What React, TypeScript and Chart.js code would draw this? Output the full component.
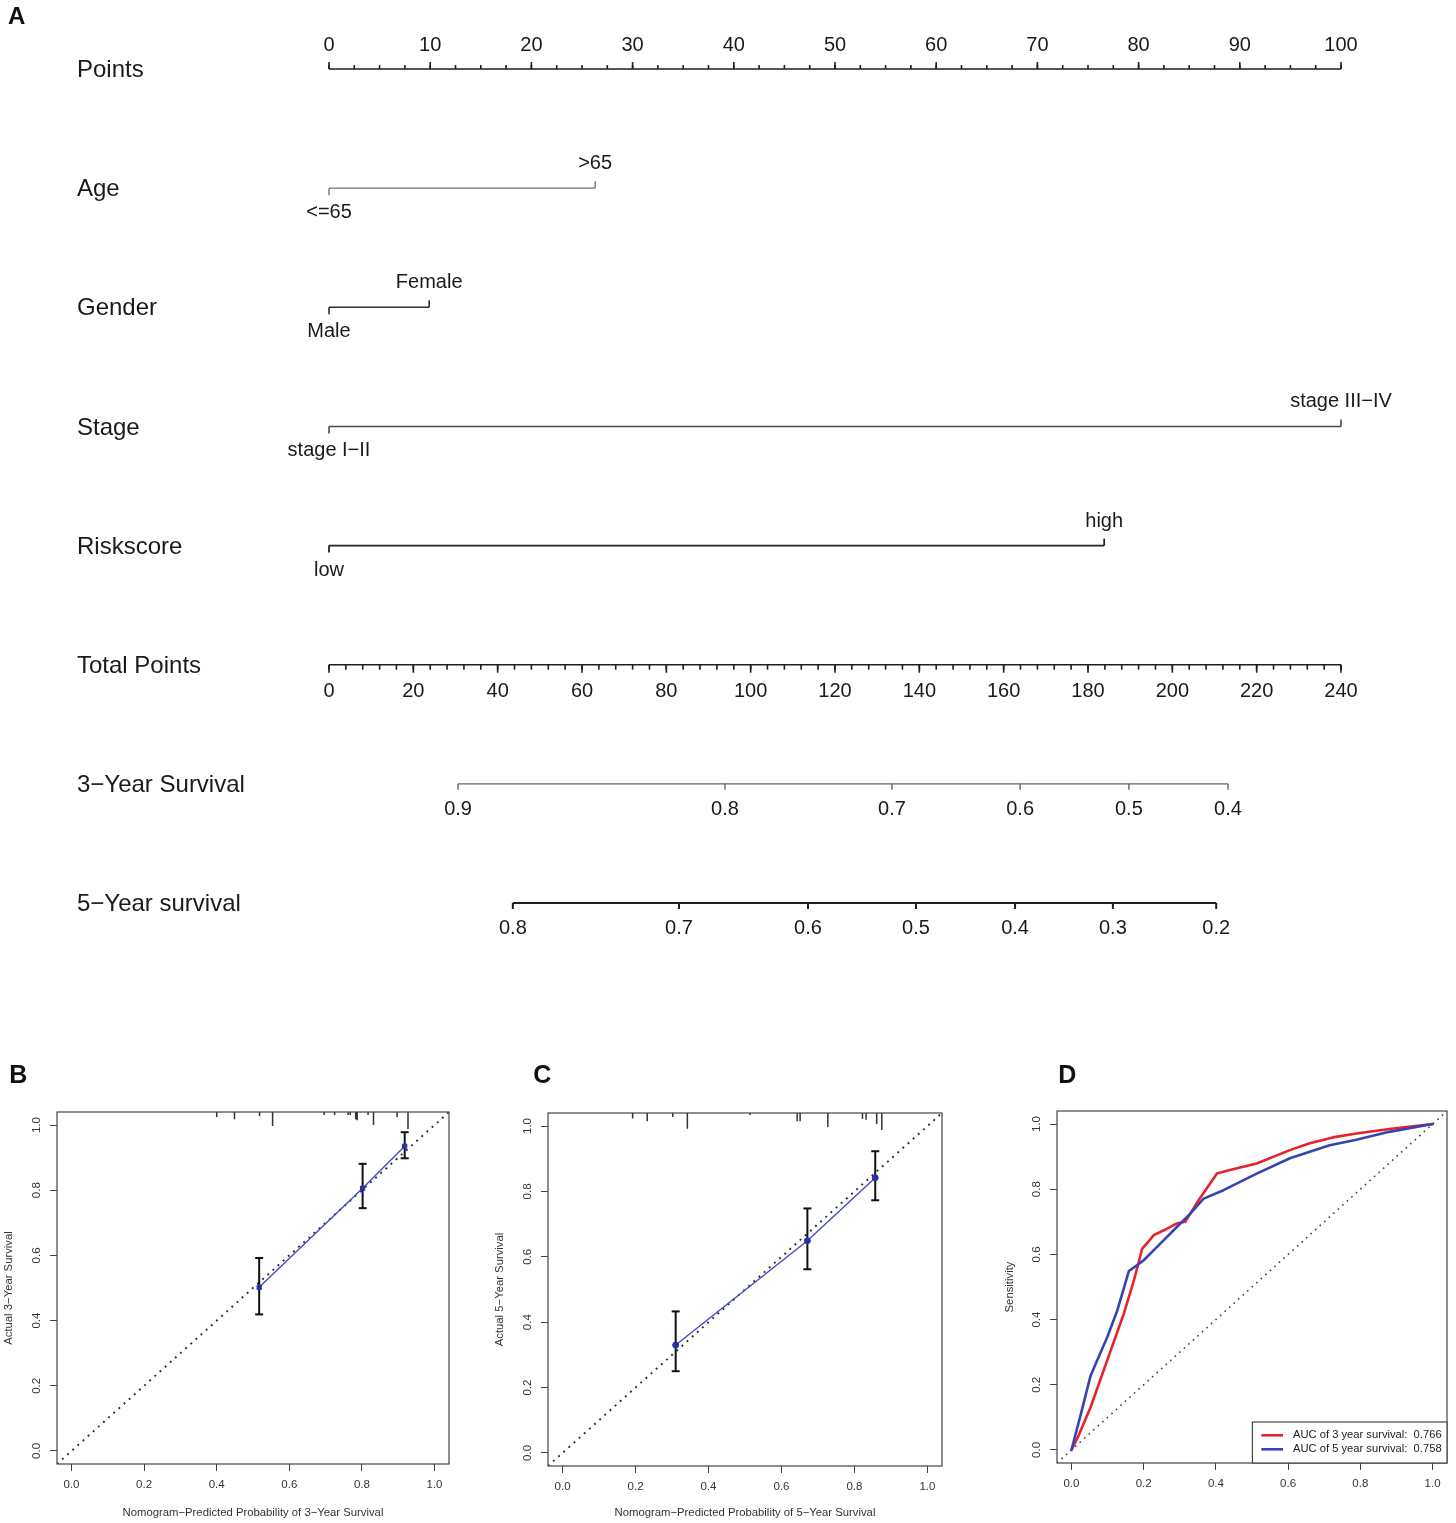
import React, { useEffect, useRef } from 'react';
import { Chart, registerables } from 'chart.js';

Chart.register(...registerables);

const FONT = '"Liberation Sans", Arial, Helvetica, sans-serif';
Chart.defaults.font.family = FONT;

// ---------------- Panel A : nomogram ----------------
const rowLabels = ['Points', 'Age', 'Gender', 'Stage', 'Riskscore', 'Total Points', '3−Year Survival', '5−Year survival'];
const pointsTicks = [0, 10, 20, 30, 40, 50, 60, 70, 80, 90, 100];
const pointsMinorStep = 2.5;
const totalPointsTicks = [0, 20, 40, 60, 80, 100, 120, 140, 160, 180, 200, 220, 240];
const totalPointsMinorStep = 4;
const pointsMax = 100;
const totalPointsMax = 240;

const ageLevels = ['<=65', '>65'];
const agePoints = [0, 26.3];
const genderLevels = ['Male', 'Female'];
const genderPoints = [0, 9.9];
const stageLevels = ['stage I−II', 'stage III−IV'];
const stagePoints = [0, 100];
const riskLevels = ['low', 'high'];
const riskPoints = [0, 76.6];

const surv3Labels = ['0.9', '0.8', '0.7', '0.6', '0.5', '0.4'];
const surv3TotalPoints = [30.6, 93.9, 133.5, 163.9, 189.7, 213.2];
const surv5Labels = ['0.8', '0.7', '0.6', '0.5', '0.4', '0.3', '0.2'];
const surv5TotalPoints = [43.6, 83.0, 113.6, 139.2, 162.7, 185.9, 210.4];

// ---------------- Panel B : 3-year calibration ----------------
const calib3Pred = [0.517, 0.802, 0.918];
const calib3Obs = [0.502, 0.806, 0.935];
const calib3Lo = [0.419, 0.745, 0.898];
const calib3Hi = [0.592, 0.881, 0.978];
const rug3X = [0.4, 0.449, 0.518, 0.554, 0.696, 0.725, 0.762, 0.768, 0.783, 0.787, 0.817, 0.832, 0.897, 0.927];
const rug3Len = [0.015, 0.022, 0.012, 0.043, 0.009, 0.009, 0.009, 0.009, 0.022, 0.025, 0.009, 0.04, 0.015, 0.052];

// ---------------- Panel C : 5-year calibration ----------------
const calib5Pred = [0.31, 0.671, 0.857];
const calib5Obs = [0.33, 0.649, 0.842];
const calib5Lo = [0.25, 0.562, 0.773];
const calib5Hi = [0.433, 0.748, 0.923];
const rug5X = [0.192, 0.232, 0.302, 0.342, 0.514, 0.643, 0.651, 0.727, 0.822, 0.832, 0.861, 0.875];
const rug5Len = [0.017, 0.025, 0.012, 0.048, 0.006, 0.025, 0.025, 0.043, 0.018, 0.021, 0.034, 0.052];

const axisTicks = [0, 0.2, 0.4, 0.6, 0.8, 1.0];

// ---------------- Panel D : ROC ----------------
const roc3FPR = [0, 0.018, 0.053, 0.099, 0.145, 0.173, 0.196, 0.21, 0.228, 0.256, 0.292, 0.315, 0.352, 0.403, 0.439, 0.513, 0.605, 0.66, 0.724, 0.789, 0.88, 1];
const roc3TPR = [0, 0.04, 0.131, 0.275, 0.418, 0.52, 0.618, 0.635, 0.659, 0.674, 0.695, 0.7, 0.766, 0.848, 0.859, 0.879, 0.92, 0.941, 0.959, 0.971, 0.985, 1];
const roc5FPR = [0, 0.026, 0.053, 0.099, 0.127, 0.159, 0.182, 0.2, 0.237, 0.292, 0.329, 0.366, 0.421, 0.513, 0.605, 0.715, 0.789, 0.88, 1];
const roc5TPR = [0, 0.11, 0.228, 0.346, 0.428, 0.549, 0.567, 0.582, 0.623, 0.684, 0.725, 0.771, 0.797, 0.848, 0.895, 0.935, 0.952, 0.976, 1];
const rocYears = [3, 5];
const rocAUC = ['0.766', '0.758'];

// ---------------- styles ----------------
const rowStyles = [
  { color: '#1e1e1e', width: 1.6 },
  { color: '#707070', width: 1.4 },
  { color: '#2e2e2e', width: 1.6 },
  { color: '#484848', width: 1.6 },
  { color: '#222222', width: 1.8 },
  { color: '#1e1e1e', width: 1.6 },
  { color: '#666666', width: 1.4 },
  { color: '#1e1e1e', width: 2.0 },
];
const RED = '#e6222b';
const BLUE = '#3644b0';

const variableRows = [
  { row: 1, levels: ageLevels, points: agePoints },
  { row: 2, levels: genderLevels, points: genderPoints },
  { row: 3, levels: stageLevels, points: stagePoints },
  { row: 4, levels: riskLevels, points: riskPoints },
];
const survivalRows = [
  { row: 6, labels: surv3Labels, tp: surv3TotalPoints },
  { row: 7, labels: surv5Labels, tp: surv5TotalPoints },
];
const toPts = (tp: number) => (tp * pointsMax) / totalPointsMax;

const nomoPlugin = {
  id: 'nomogramAxes',
  afterDatasetsDraw(chart: any) {
    const ctx = chart.ctx as CanvasRenderingContext2D;
    const xs = chart.scales.x;
    const ys = chart.scales.y;
    const X = (v: number) => xs.getPixelForValue(v);
    const Y = (r: number) => ys.getPixelForValue(r);
    ctx.save();
    const tick = (x: number, y: number, len: number, st: any) => {
      ctx.beginPath();
      ctx.strokeStyle = st.color;
      ctx.lineWidth = st.width;
      ctx.moveTo(x, y);
      ctx.lineTo(x, y + len);
      ctx.stroke();
    };
    const text = (s: string, x: number, y: number, size: number, align: CanvasTextAlign = 'center', weight = '') => {
      ctx.font = `${weight} ${size}px ${FONT}`;
      ctx.textAlign = align;
      ctx.textBaseline = 'middle';
      ctx.fillStyle = '#1a1a1a';
      ctx.fillText(s, x, y);
    };
    ctx.font = `bold 24px ${FONT}`;
    ctx.textAlign = 'left';
    ctx.textBaseline = 'alphabetic';
    ctx.fillStyle = '#111';
    ctx.fillText('A', 8, 24);

    rowLabels.forEach((l, i) => text(l, 77, Y(i) + 1.5, 24, 'left'));

    // Points axis
    const y0 = Y(0);
    for (let v = 0; v <= pointsMax + 1e-9; v += pointsMinorStep) tick(X(v), y0, -4, rowStyles[0]);
    pointsTicks.forEach((v) => {
      tick(X(v), y0, -7, rowStyles[0]);
      text(String(v), X(v), y0 - 24, 20);
    });

    // variables
    variableRows.forEach((r) => {
      const y = Y(r.row);
      r.points.forEach((p, k) => {
        const dir = k % 2 === 0 ? 1 : -1;
        tick(X(p), y, 7 * dir, rowStyles[r.row]);
        text(r.levels[k], X(p), y + 24.5 * dir, 20);
      });
    });

    // Total points
    const y5 = Y(5);
    for (let v = 0; v <= totalPointsMax + 1e-9; v += totalPointsMinorStep) tick(X(toPts(v)), y5, 5, rowStyles[5]);
    totalPointsTicks.forEach((v) => {
      tick(X(toPts(v)), y5, 8, rowStyles[5]);
      text(String(v), X(toPts(v)), y5 + 26.5, 20);
    });

    // survival axes
    survivalRows.forEach((r) => {
      const y = Y(r.row);
      r.tp.forEach((tp, k) => {
        tick(X(toPts(tp)), y, 6, rowStyles[r.row]);
        text(r.labels[k], X(toPts(tp)), y + 25.5, 20);
      });
    });
    ctx.restore();
  },
};

function nomogramConfig(): any {
  const seg = (x0: number, x1: number, row: number) => [
    { x: x0, y: row },
    { x: x1, y: row },
  ];
  const lineRows = [
    seg(0, pointsMax, 0),
    seg(agePoints[0], agePoints[agePoints.length - 1], 1),
    seg(genderPoints[0], genderPoints[genderPoints.length - 1], 2),
    seg(stagePoints[0], stagePoints[stagePoints.length - 1], 3),
    seg(riskPoints[0], riskPoints[riskPoints.length - 1], 4),
    seg(0, toPts(totalPointsMax), 5),
    seg(toPts(surv3TotalPoints[0]), toPts(surv3TotalPoints[surv3TotalPoints.length - 1]), 6),
    seg(toPts(surv5TotalPoints[0]), toPts(surv5TotalPoints[surv5TotalPoints.length - 1]), 7),
  ];
  return {
    type: 'scatter',
    data: {
      datasets: lineRows.map((d, i) => ({
        data: d,
        showLine: true,
        borderColor: rowStyles[i].color,
        borderWidth: rowStyles[i].width,
        pointRadius: 0,
        clip: false,
      })),
    },
    options: {
      responsive: false,
      maintainAspectRatio: false,
      animation: false,
      events: [],
      layout: { padding: { left: 329, right: 115, top: 69, bottom: 97 } },
      plugins: { legend: { display: false }, tooltip: { enabled: false } },
      scales: {
        x: { type: 'linear', min: 0, max: pointsMax, display: false },
        y: { type: 'linear', min: 0, max: 7, reverse: true, display: false },
      },
    },
    plugins: [nomoPlugin],
  };
}

// ---------------- shared helpers for B/C/D ----------------
function framePlugin(letter: string, lx: number) {
  return {
    id: 'frame' + letter,
    afterDraw(chart: any) {
      const { ctx, chartArea } = chart;
      ctx.save();
      ctx.strokeStyle = '#444';
      ctx.lineWidth = 1.2;
      ctx.strokeRect(chartArea.left, chartArea.top, chartArea.right - chartArea.left, chartArea.bottom - chartArea.top);
      ctx.font = `bold 25px ${FONT}`;
      ctx.fillStyle = '#111';
      ctx.textAlign = 'left';
      ctx.textBaseline = 'alphabetic';
      ctx.fillText(letter, lx, 43);
      ctx.restore();
    },
  };
}

function xAxis(height: number, title: string | null, titlePad: number): any {
  return {
    type: 'linear',
    min: -0.04,
    max: 1.04,
    afterBuildTicks: (s: any) => {
      s.ticks = axisTicks.map((v) => ({ value: v }));
    },
    afterFit: (s: any) => {
      s.height = height;
    },
    grid: { drawOnChartArea: false, drawTicks: true, tickLength: 7, color: '#444', lineWidth: 1 },
    border: { display: false },
    ticks: {
      autoSkip: false,
      maxRotation: 0,
      minRotation: 0,
      padding: 6.6,
      color: '#333',
      font: { size: 11.5, family: FONT },
      callback: (v: any) => Number(v).toFixed(1),
    },
    title: title
      ? { display: true, text: title, color: '#333', font: { size: 11.3, family: FONT }, padding: { top: 0, bottom: titlePad } }
      : { display: false },
  };
}

function yAxis(width: number, title: string, titlePad: number): any {
  return {
    type: 'linear',
    min: -0.04,
    max: 1.04,
    afterBuildTicks: (s: any) => {
      s.ticks = axisTicks.map((v) => ({ value: v }));
    },
    afterFit: (s: any) => {
      s.width = width;
    },
    grid: { drawOnChartArea: false, drawTicks: true, tickLength: 7, color: '#444', lineWidth: 1 },
    border: { display: false },
    ticks: {
      autoSkip: false,
      minRotation: 90,
      maxRotation: 90,
      crossAlign: 'center',
      padding: 5.5,
      color: '#333',
      font: { size: 11.5, family: FONT },
      callback: (v: any) => Number(v).toFixed(1),
    },
    title: { display: true, text: title, color: '#333', font: { size: 11.3, family: FONT }, padding: { top: titlePad, bottom: 0 } },
  };
}

function calibConfig(o: any): any {
  const errData: any[] = [];
  o.pred.forEach((x: number, i: number) => {
    errData.push({ x, y: o.lo[i] }, { x, y: o.hi[i] }, { x, y: null });
  });
  const rugData: any[] = [];
  o.rugX.forEach((x: number, i: number) => {
    rugData.push({ x, y: 1.04 }, { x, y: 1.04 - o.rugLen[i] }, { x, y: null });
  });
  return {
    type: 'scatter',
    data: {
      datasets: [
        {
          data: o.pred.map((x: number, i: number) => ({ x, y: o.obs[i] })),
          showLine: true,
          borderColor: '#4848c8',
          borderWidth: 1.4,
          pointStyle: o.marker,
          pointRadius: 3,
          pointBackgroundColor: '#2a30a4',
          pointBorderColor: '#2a30a4',
          pointBorderWidth: 1,
        },
        {
          data: errData,
          showLine: true,
          spanGaps: false,
          borderColor: '#111',
          borderWidth: 2,
          pointStyle: 'line',
          pointRadius: 4,
          pointBorderColor: '#111',
          pointBorderWidth: 2,
        },
        { data: rugData, showLine: true, spanGaps: false, borderColor: '#333', borderWidth: 1.5, pointRadius: 0 },
        {
          data: [
            { x: -0.04, y: -0.04 },
            { x: 1.04, y: 1.04 },
          ],
          showLine: true,
          borderColor: '#2a2a2a',
          borderWidth: 1.9,
          borderDash: [1.9, 5],
          pointRadius: 0,
        },
      ],
    },
    options: {
      responsive: false,
      maintainAspectRatio: false,
      animation: false,
      events: [],
      layout: { padding: { top: o.padTop, right: o.padRight, left: 0, bottom: 0 } },
      plugins: { legend: { display: false }, tooltip: { enabled: false } },
      scales: {
        x: xAxis(o.xH, o.xTitle, o.xTitlePad),
        y: yAxis(o.yW, o.yTitle, o.yTitlePad),
      },
    },
    plugins: [framePlugin(o.letter, o.letterX)],
  };
}

const rocLegendPlugin = {
  id: 'rocLegend',
  afterDraw(chart: any) {
    const { ctx, chartArea } = chart;
    const w = 194.6;
    const h = 41;
    const x0 = chartArea.right - w;
    const y0 = chartArea.bottom - h;
    ctx.save();
    ctx.fillStyle = '#fff';
    ctx.fillRect(x0, y0, w, h);
    ctx.strokeStyle = '#444';
    ctx.lineWidth = 1.2;
    ctx.strokeRect(x0, y0, w, h);
    const colors = [RED, BLUE];
    rocYears.forEach((yr, i) => {
      const y = y0 + 13.3 + i * 14;
      ctx.beginPath();
      ctx.strokeStyle = colors[i];
      ctx.lineWidth = 2.6;
      ctx.moveTo(x0 + 9, y);
      ctx.lineTo(x0 + 30.6, y);
      ctx.stroke();
      ctx.font = `11.2px ${FONT}`;
      ctx.fillStyle = '#222';
      ctx.textAlign = 'left';
      ctx.textBaseline = 'middle';
      ctx.fillText(`AUC of ${yr} year survival:  ${rocAUC[i]}`, x0 + 40.6, y);
    });
    ctx.restore();
  },
};

function rocConfig(): any {
  return {
    type: 'scatter',
    data: {
      datasets: [
        {
          data: roc5FPR.map((x, i) => ({ x, y: roc5TPR[i] })),
          showLine: true,
          borderColor: BLUE,
          borderWidth: 2.6,
          borderJoinStyle: 'round',
          borderCapStyle: 'round',
          pointRadius: 0,
          order: 0,
        },
        {
          data: roc3FPR.map((x, i) => ({ x, y: roc3TPR[i] })),
          showLine: true,
          borderColor: RED,
          borderWidth: 2.6,
          borderJoinStyle: 'round',
          borderCapStyle: 'round',
          pointRadius: 0,
          order: 1,
        },
        {
          data: [
            { x: -0.04, y: -0.04 },
            { x: 1.04, y: 1.04 },
          ],
          showLine: true,
          borderColor: '#444',
          borderWidth: 1.6,
          borderDash: [1.6, 4.5],
          pointRadius: 0,
          order: 2,
        },
      ],
    },
    options: {
      responsive: false,
      maintainAspectRatio: false,
      animation: false,
      events: [],
      layout: { padding: { top: 71, right: 9, left: 0, bottom: 0 } },
      plugins: { legend: { display: false }, tooltip: { enabled: false } },
      scales: {
        x: xAxis(60, null, 0),
        y: yAxis(67, 'Sensitivity', 13.2),
      },
    },
    plugins: [framePlugin('D', 68.3), rocLegendPlugin],
  };
}

function ChartBox({ build, left, top, width, height }: any) {
  const ref = useRef<HTMLCanvasElement | null>(null);
  useEffect(() => {
    if (!ref.current) return;
    const chart = new Chart(ref.current, build());
    return () => chart.destroy();
  }, []);
  return (
    <div style={{ position: 'absolute', left, top, width, height }}>
      <canvas ref={ref} width={width} height={height} style={{ display: 'block', width, height }} />
    </div>
  );
}

export default function App() {
  return (
    <div style={{ position: 'absolute', left: 0, top: 0, width: 1456, height: 1523, background: '#fff', overflow: 'hidden' }}>
      <ChartBox build={nomogramConfig} left={0} top={0} width={1456} height={1000} />
      <ChartBox
        build={() =>
          calibConfig({
            pred: calib3Pred,
            obs: calib3Obs,
            lo: calib3Lo,
            hi: calib3Hi,
            rugX: rug3X,
            rugLen: rug3Len,
            marker: 'rect',
            padTop: 72,
            padRight: 21,
            xH: 59,
            yW: 57,
            xTitle: 'Nomogram−Predicted Probability of 3−Year Survival',
            xTitlePad: 3.2,
            yTitle: 'Actual 3−Year Survival',
            yTitlePad: 2.2,
            letter: 'B',
            letterX: 9.3,
          })
        }
        left={0}
        top={1040}
        width={470}
        height={483}
      />
      <ChartBox
        build={() =>
          calibConfig({
            pred: calib5Pred,
            obs: calib5Obs,
            lo: calib5Lo,
            hi: calib5Hi,
            rugX: rug5X,
            rugLen: rug5Len,
            marker: 'circle',
            padTop: 73,
            padRight: 18,
            xH: 57,
            yW: 58,
            xTitle: 'Nomogram−Predicted Probability of 5−Year Survival',
            xTitlePad: 3.5,
            yTitle: 'Actual 5−Year Survival',
            yTitlePad: 3.2,
            letter: 'C',
            letterX: 43.3,
          })
        }
        left={490}
        top={1040}
        width={470}
        height={483}
      />
      <ChartBox build={rocConfig} left={990} top={1040} width={466} height={483} />
    </div>
  );
}
